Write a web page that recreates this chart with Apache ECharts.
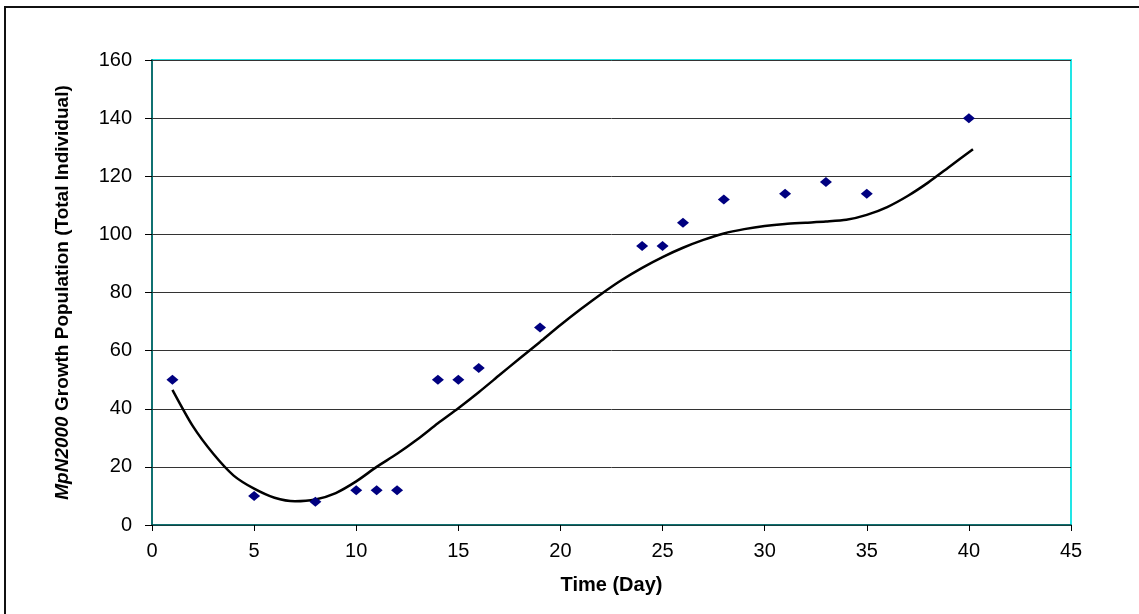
<!DOCTYPE html>
<html>
<head>
<meta charset="utf-8">
<script src="https://cdn.jsdelivr.net/npm/echarts@6/dist/echarts.min.js"></script>
<style>
  html, body { margin: 0; padding: 0; background: #fff; }
  #chart { width: 1139px; height: 614px; }
</style>
</head>
<body>
<div id="chart"></div>
<script>
// Observed counts per day
const days = [1, 5, 8, 10, 11, 12, 14, 15, 16, 19, 24, 25, 26, 28, 31, 33, 35, 40];
const population = [50, 10, 8, 12, 12, 12, 50, 50, 54, 68, 96, 96, 104, 112, 114, 118, 114, 140];

// Polynomial trend line, sampled per day
const trendDays = [1, 2, 3, 4, 5, 6, 7, 8, 9, 10, 11, 12, 13, 14, 15, 16, 17, 18, 19, 20,
  21, 22, 23, 24, 25, 26, 27, 28, 29, 30, 31, 32, 33, 34, 35, 36, 37, 38, 39, 40.2];
const trendValues = [46.5, 34, 24.5, 17, 12.5, 9.4, 8.2, 8.8, 11, 15, 20, 24.5, 29.5, 35, 40.2,
  45.7, 51.5, 57.3, 63, 68.8, 74.3, 79.5, 84.3, 88.5, 92.2, 95.4, 98.1, 100.3, 101.8, 102.9, 103.6,
  104, 104.4, 105, 106.7, 109.4, 113.2, 117.8, 123, 129.3];

const xTicks = { min: 0, max: 45, interval: 5 };
const yTicks = { min: 0, max: 160, interval: 20 };

const chart = echarts.init(document.getElementById('chart'), null, { renderer: 'canvas' });
const font = '"Liberation Sans", Arial, sans-serif';

chart.setOption({
  animation: false,
  backgroundColor: '#ffffff',
  grid: { left: 152, top: 60, right: 68, bottom: 89, show: false },
  graphic: [
    {
      type: 'rect', z: 0, silent: true,
      shape: { x: 5, y: 7, width: 1300, height: 800 },
      style: { fill: 'none', stroke: '#111', lineWidth: 2 }
    },
    {
      type: 'rect', z: 0, silent: true,
      shape: { x: 152, y: 60, width: 919, height: 465 },
      style: { fill: 'none', stroke: '#22e5e5', lineWidth: 2 }
    }
  ],
  xAxis: {
    type: 'value',
    min: xTicks.min, max: xTicks.max, interval: xTicks.interval,
    name: 'Time (Day)',
    nameLocation: 'middle',
    nameGap: 50,
    nameTextStyle: { fontFamily: font, fontSize: 20, fontWeight: 'bold', color: '#000' },
    axisLine: { show: true, lineStyle: { color: '#0b4a4a', width: 1.5 } },
    axisTick: { show: true, length: 6, lineStyle: { color: '#000' } },
    axisLabel: { fontFamily: font, fontSize: 20, color: '#000', margin: 16 },
    splitLine: { show: false }
  },
  yAxis: {
    type: 'value',
    min: yTicks.min, max: yTicks.max, interval: yTicks.interval,
    name: '{it|MpN2000} Growth Population (Total Individual)',
    nameLocation: 'middle',
    nameGap: 80,
    nameRotate: 90,
    nameTextStyle: {
      fontFamily: font, fontSize: 19, fontWeight: 'bold', color: '#000',
      rich: {
        it: { fontFamily: font, fontSize: 19, fontWeight: 'bold', fontStyle: 'italic', color: '#000' }
      }
    },
    axisLine: { show: true, lineStyle: { color: '#0b4a4a', width: 1.5 } },
    axisTick: { show: true, length: 7, lineStyle: { color: '#000' } },
    axisLabel: { fontFamily: font, fontSize: 20, color: '#000', margin: 20 },
    splitLine: { show: true, lineStyle: { color: '#333', width: 1 } }
  },
  series: [
    {
      name: 'Trend',
      type: 'line',
      data: trendDays.map((d, i) => [d, trendValues[i]]),
      smooth: 0.25,
      showSymbol: false,
      symbol: 'none',
      lineStyle: { color: '#000', width: 2.5 },
      z: 3
    },
    {
      name: 'Population',
      type: 'scatter',
      data: days.map((d, i) => [d, population[i]]),
      symbol: 'diamond',
      symbolSize: [12, 10],
      itemStyle: { color: '#000080', opacity: 1 },
      z: 4
    }
  ]
});
</script>
</body>
</html>
